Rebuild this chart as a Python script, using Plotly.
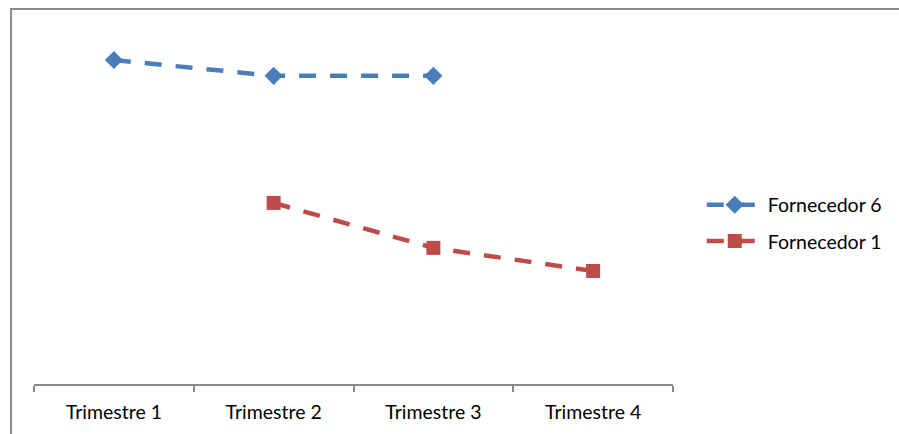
import plotly.graph_objects as go

categories = ["Trimestre 1", "Trimestre 2", "Trimestre 3", "Trimestre 4"]
forn6_x = ["Trimestre 1", "Trimestre 2", "Trimestre 3"]
forn6_y = [90.0, 85.6, 85.6]
forn1_x = ["Trimestre 2", "Trimestre 3", "Trimestre 4"]
forn1_y = [50.3, 37.8, 31.4]

BLUE = "#4A7EBB"
RED = "#BE4B48"
FONT = "Lato"
FSIZE = 19.5

fig = go.Figure()
fig.add_trace(go.Scatter(
    x=forn6_x, y=forn6_y, name="Fornecedor 6", mode="lines+markers",
    legendgroup="f6",
    line=dict(color=BLUE, width=4.5, dash="17px,14px"),
    marker=dict(symbol="diamond", size=14, color=BLUE),
))
fig.add_trace(go.Scatter(
    x=forn1_x, y=forn1_y, name="Fornecedor 1", mode="lines+markers",
    legendgroup="f1",
    line=dict(color=RED, width=4.5, dash="17px,14px"),
    marker=dict(symbol="square", size=14, color=RED),
))

fig.update_layout(
    width=899, height=434,
    margin=dict(l=34, r=226, t=24, b=50),
    paper_bgcolor="white", plot_bgcolor="white",
    font=dict(family=FONT, size=FSIZE, color="#000000"),
    showlegend=True,
    legend=dict(
        x=1.045, xanchor="left", y=0.447, yanchor="middle",
        font=dict(family=FONT, size=FSIZE, color="#000000"),
        itemwidth=56, tracegroupgap=8,
        bgcolor="rgba(0,0,0,0)",
    ),
    xaxis=dict(
        type="category", categoryorder="array", categoryarray=categories,
        range=[-0.5, 3.5], tickson="boundaries",
        showline=True, linecolor="#888888", linewidth=1.5,
        ticks="outside", ticklen=6, tickcolor="#888888", tickwidth=1.5,
        showgrid=False, zeroline=False,
        tickfont=dict(family=FONT, size=FSIZE, color="#000000"),
        ticklabelstandoff=10,
    ),
    yaxis=dict(range=[0, 100], visible=False, showgrid=False, zeroline=False),
    shapes=[dict(
        type="rect", xref="paper", yref="paper",
        x0=(11 - 34) / 639, x1=2.0, y0=-2.0, y1=(384 - 9) / 360,
        line=dict(color="#8c8c8c", width=2), fillcolor="rgba(0,0,0,0)",
        layer="below",
    )],
)

fig.write_html("out.html")
